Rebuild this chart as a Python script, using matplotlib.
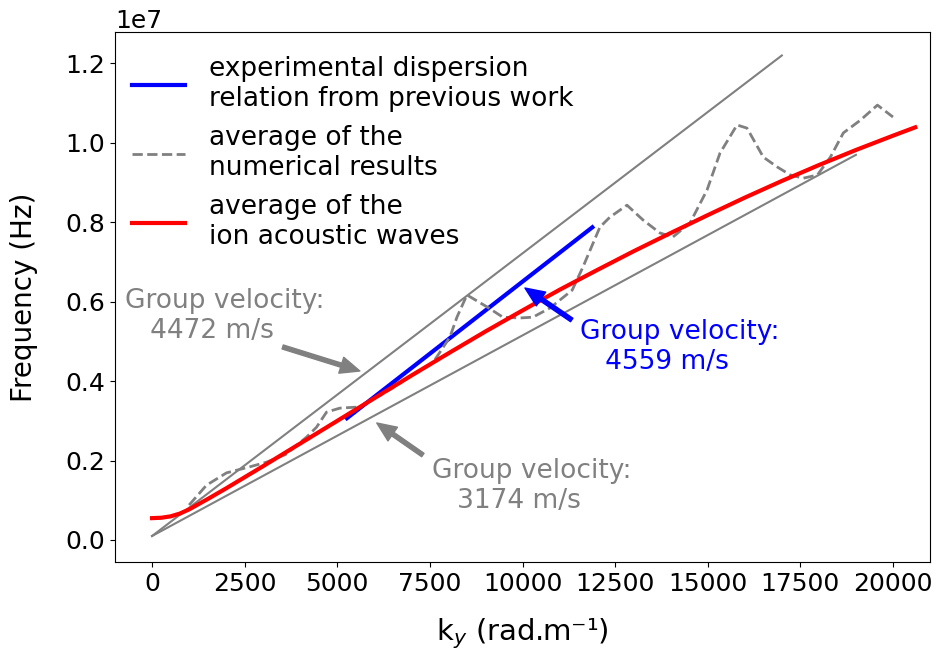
import numpy as np
import matplotlib
matplotlib.use("Agg")
import matplotlib.pyplot as plt

# Wavenumber (rad/m) and frequency (Hz) of the averaged numerical results
k_num = [1000, 1470, 2010, 2630, 3090, 3600, 4170, 4440, 4710, 5070, 5600,
         6500, 7230, 7580, 8040, 8230, 8500, 9040, 9470, 9930, 10280, 10740,
         11340, 11630, 12090, 12360, 12820, 13250, 13710, 14060, 14520, 14980,
         15330, 15790, 16060, 16500, 16880, 17230, 17580, 17960, 18310, 18660,
         19120, 19580, 20000]
f_num = [0.088e7, 0.138e7, 0.169e7, 0.184e7, 0.196e7, 0.215e7, 0.259e7,
         0.284e7, 0.322e7, 0.332e7, 0.335e7, 0.383e7, 0.428e7, 0.446e7,
         0.511e7, 0.561e7, 0.617e7, 0.587e7, 0.561e7, 0.559e7, 0.561e7,
         0.584e7, 0.629e7, 0.687e7, 0.788e7, 0.813e7, 0.843e7, 0.806e7,
         0.773e7, 0.763e7, 0.798e7, 0.881e7, 0.974e7, 1.045e7, 1.037e7,
         0.964e7, 0.939e7, 0.919e7, 0.911e7, 0.919e7, 0.964e7, 1.025e7,
         1.057e7, 1.095e7, 1.065e7]

# Averaged ion acoustic wave dispersion
k_iaw = [0, 250, 500, 750, 1000, 1500, 2000, 2500, 3000, 4000, 5000, 6000,
         7000, 8000, 9000, 10000, 11000, 12000, 13000, 14000, 15000, 16000,
         17000, 18000, 19000, 20000, 20600]
f_iaw = [0.055e7, 0.056e7, 0.0595e7, 0.0665e7, 0.077e7, 0.103e7, 0.130e7,
         0.158e7, 0.186e7, 0.243e7, 0.300e7, 0.357e7, 0.414e7, 0.470e7,
         0.525e7, 0.578e7, 0.630e7, 0.679e7, 0.727e7, 0.773e7, 0.818e7,
         0.862e7, 0.904e7, 0.944e7, 0.982e7, 1.018e7, 1.039e7]

# Reference group velocities (m/s) and the k-range of each line
v_fast, k_fast = 4472, [0, 17000]
v_slow, k_slow = 3174, [0, 19000]
v_exp, k_exp = 4559, [5260, 11885]
f_offset = 1.0e5
f_offset_exp = -7.5e5

# Annotation labels: (text, colour, text anchor, arrow tail, arrow tip)
notes = [
    ("Group velocity:\n   4472 m/s", "gray", (-743, 0.564e7),
     (3527, 0.486e7), (5609, 0.4255e7)),
    ("Group velocity:\n   3174 m/s", "gray", (7553, 0.137e7),
     (7310, 0.214e7), (6066, 0.2946e7)),
    ("Group velocity:\n   4559 m/s", "blue", (11553, 0.486e7),
     (11328, 0.554e7), (10066, 0.6344e7)),
]

fig, ax = plt.subplots(figsize=(9.38, 6.55), dpi=100)
fig.subplots_adjust(left=0.1226, right=0.9915, top=0.9511, bottom=0.142)


def line(v, ks, off):
    ks = np.asarray(ks, dtype=float)
    return ks, v * ks / (2 * np.pi) + off


kx, fy = line(v_fast, k_fast, f_offset)
ax.plot(kx, fy, color="gray", lw=1.5)
kx, fy = line(v_slow, k_slow, f_offset)
ax.plot(kx, fy, color="gray", lw=1.5)

kx, fy = line(v_exp, k_exp, f_offset_exp)
ax.plot(kx, fy, color="blue", lw=3,
        label="experimental dispersion\nrelation from previous work")
ax.plot(k_num, f_num, color="gray", lw=2, ls="--",
        label="average of the\nnumerical results")
ax.plot(k_iaw, f_iaw, color="red", lw=3,
        label="average of the\nion acoustic waves")

for text, col, pos, tail, tip in notes:
    ax.text(pos[0], pos[1], text, ha="left", va="center", color=col,
            fontsize=19)
    ax.annotate("", xy=tip, xytext=tail,
                arrowprops=dict(facecolor=col, edgecolor=col, shrink=0.0,
                                width=3, headwidth=12, headlength=14))

ax.set_xlim(-1000, 21000)
ax.set_ylim(-0.0554e7, 1.279e7)
ax.set_xticks(np.arange(0, 20001, 2500))
ax.set_yticks(np.arange(0, 1.21e7, 0.2e7))
ax.tick_params(labelsize=18)
ax.yaxis.get_offset_text().set_fontsize(18)

ax.set_xlabel("k$_y$ (rad.m⁻¹)", fontsize=21, labelpad=15)
ax.set_ylabel("Frequency (Hz)", fontsize=20, labelpad=20)

ax.legend(loc="upper left", fontsize=19, frameon=False, handletextpad=0.9,
          bbox_to_anchor=(-0.008, 1.0))

fig.savefig("out.png", dpi=100)
